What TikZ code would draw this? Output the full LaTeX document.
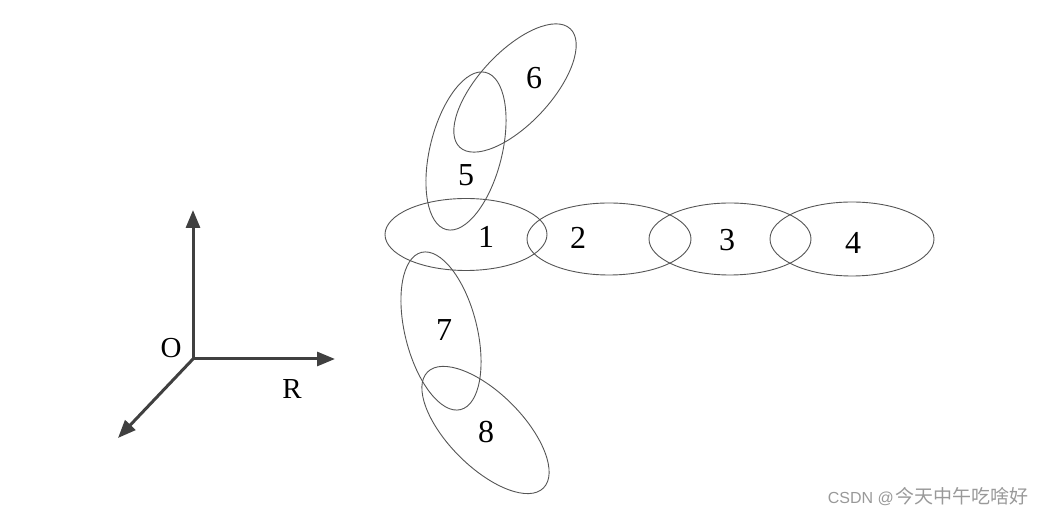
\documentclass[tikz,border=0pt]{standalone}
\usepackage{fontspec}
\setmainfont{Liberation Serif}
\newfontfamily\cjk{Noto Sans CJK SC}
\newfontfamily\wmsans{Liberation Sans}
\usetikzlibrary{arrows.meta}
\definecolor{axisc}{HTML}{404040}
\definecolor{ellc}{HTML}{555555}
\definecolor{wmc}{HTML}{999999}
\tikzset{
  ell/.style={draw=ellc, line width=0.9pt},
  num/.style={inner sep=0pt, font=\fontsize{32}{36}\selectfont},
  axlab/.style={inner sep=0pt, font=\fontsize{29}{33}\selectfont},
  axis/.style={draw=axisc, line width=3pt, -{Triangle[length=18pt,width=14pt]}},
}
\begin{document}
\begin{tikzpicture}[x=1pt,y=1pt]
\useasboundingbox (0,0) rectangle (1042,516);
% axes
\coordinate (O) at (193,157);
\coordinate (up) at (193,306);
\coordinate (right) at (335,157);
\coordinate (diag) at (118,78);
\draw[axis] (O) -- (up);
\draw[axis] (O) -- (right);
\draw[axis] (O) -- (diag);
\node[axlab] (lo) at (171,168) {O};
\node[axlab] (lr) at (292,127) {R};
% ellipses
\draw[ell] (466,281.5) ellipse [x radius=81pt, y radius=36pt];
\draw[ell] (609,277) ellipse [x radius=82pt, y radius=36pt];
\draw[ell] (730,277) ellipse [x radius=81pt, y radius=36pt];
\draw[ell] (852,277) ellipse [x radius=82pt, y radius=37pt];
\draw[ell, rotate around={76:(466,365)}] (466,365) ellipse [x radius=81pt, y radius=36pt];
\draw[ell, rotate around={47:(515,428)}] (515,428) ellipse [x radius=81pt, y radius=36pt];
\draw[ell, rotate around={104:(441,185)}] (441,185) ellipse [x radius=81pt, y radius=36pt];
\draw[ell, rotate around={-45:(485.5,86)}] (485.5,86) ellipse [x radius=82pt, y radius=37pt];
% labels
\node[num] (n1) at (486,279) {1};
\node[num] (n2) at (578,278) {2};
\node[num] (n3) at (727,276) {3};
\node[num] (n4) at (853,273) {4};
\node[num] (n5) at (466,341) {5};
\node[num] (n6) at (534,438) {6};
\node[num] (n7) at (444,186) {7};
\node[num] (n8) at (486,84) {8};
% watermark
\node[anchor=east, inner sep=0pt, text=wmc] (wm) at (1029,19) {{\wmsans\fontsize{16}{18}\selectfont CSDN @}\hspace{2pt}{\cjk\fontsize{19}{21}\selectfont 今天中午吃啥好}};
\end{tikzpicture}
\end{document}
